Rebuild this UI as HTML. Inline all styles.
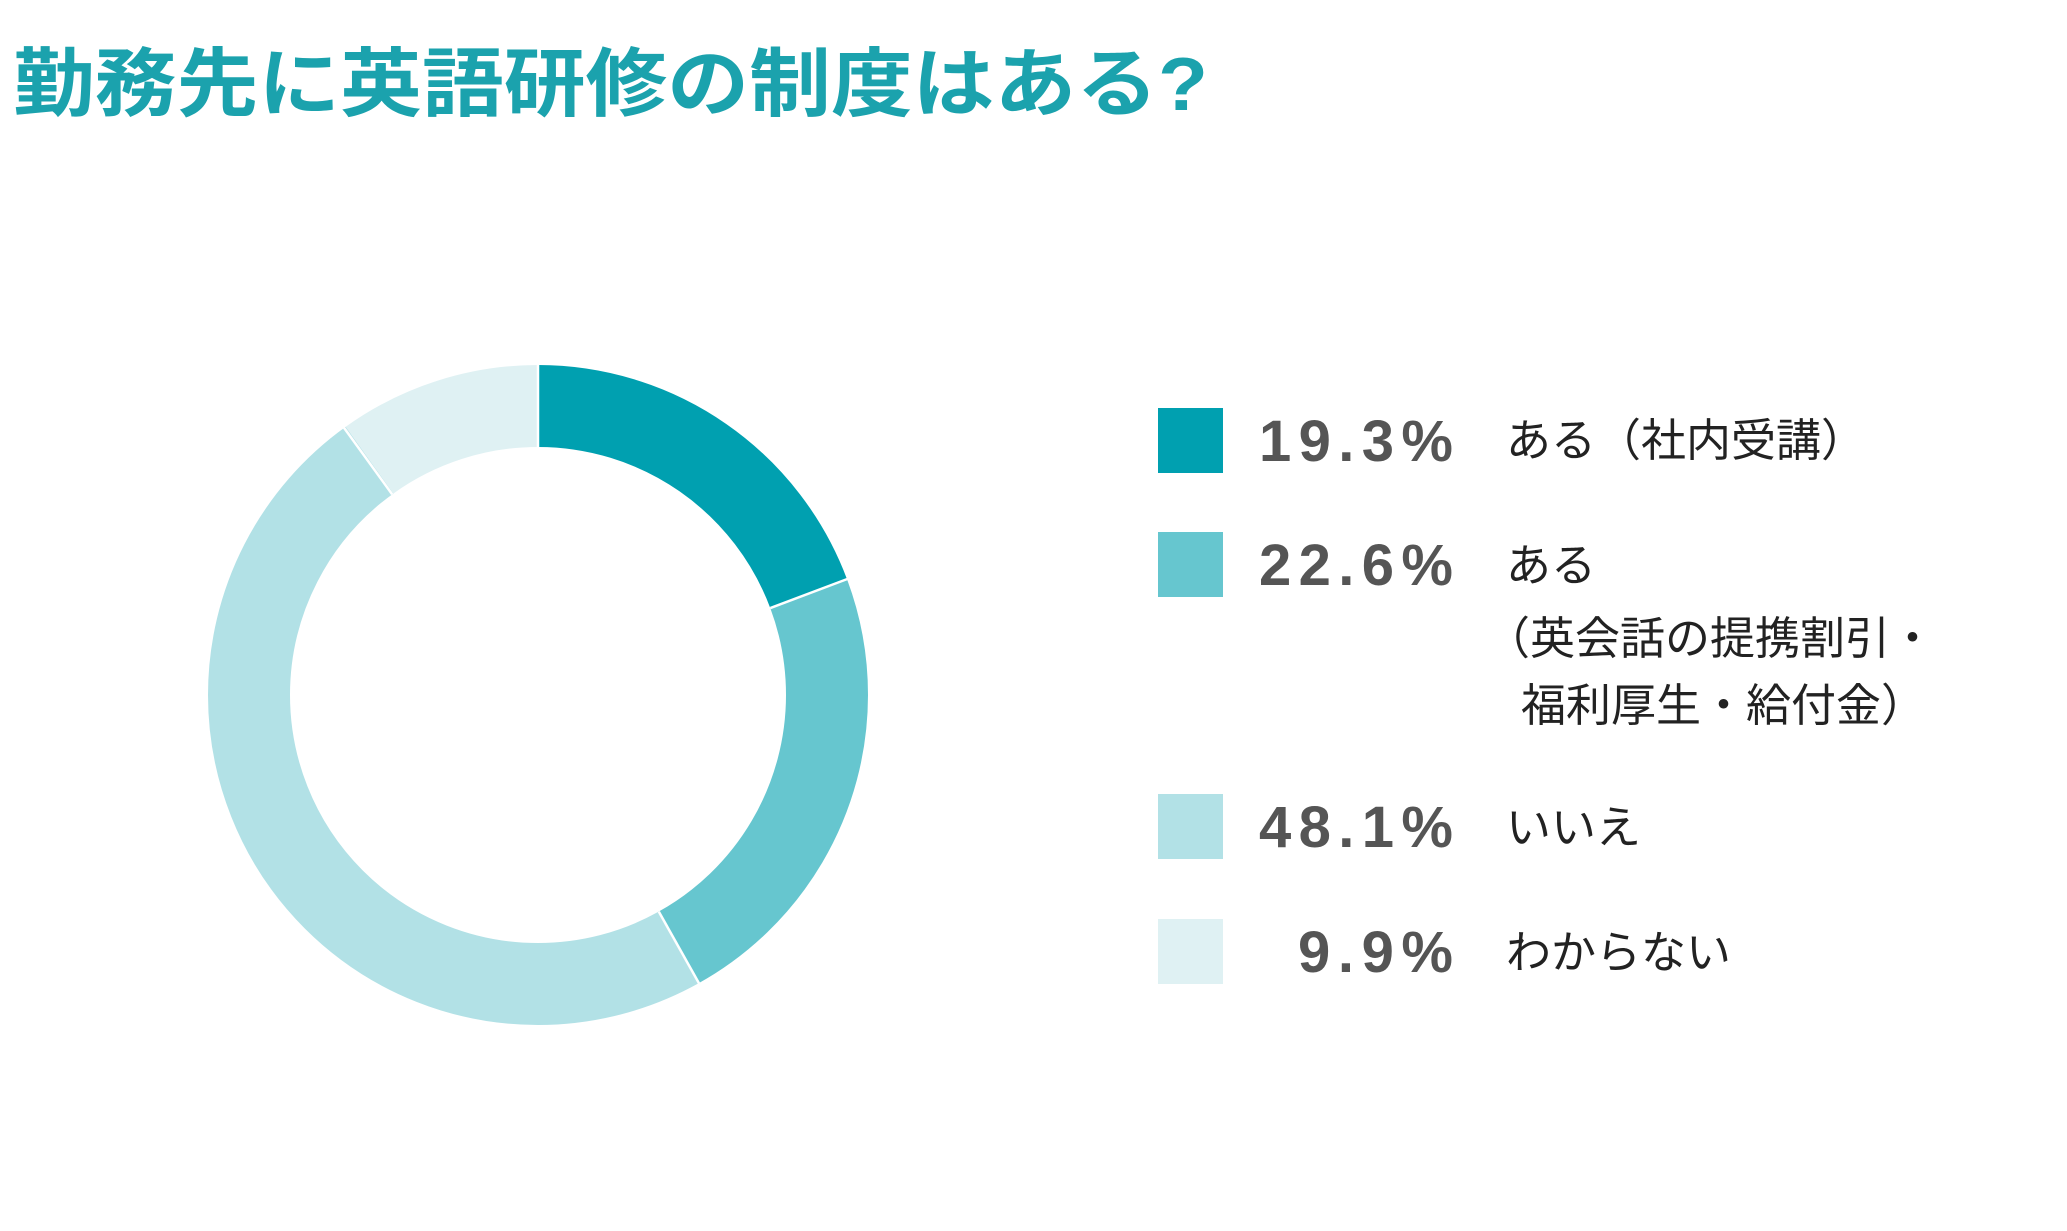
<!DOCTYPE html>
<html><head><meta charset="utf-8"><style>
html,body{margin:0;padding:0;background:#fff;}
</style></head><body>
<svg width="2067" height="1226" viewBox="0 0 2067 1226" xmlns="http://www.w3.org/2000/svg" font-family="'Liberation Sans','Noto Sans CJK JP',sans-serif">
<rect width="2067" height="1226" fill="#fff"/>
<text x="13" y="110" font-size="75" font-weight="bold" fill="#1ba2ad" textLength="1195" lengthAdjust="spacingAndGlyphs">勤務先に英語研修の制度はある?</text>
<g transform="rotate(-90 538 695)" fill="none" stroke-width="82">
<circle cx="538" cy="695" r="289" stroke="#00a0b0" stroke-dasharray="350.8 2000" stroke-dashoffset="0"/>
<circle cx="538" cy="695" r="289" stroke="#66c6cf" stroke-dasharray="410.8 2000" stroke-dashoffset="-350.8"/>
<circle cx="538" cy="695" r="289" stroke="#b2e1e6" stroke-dasharray="874.3 2000" stroke-dashoffset="-761.6"/>
<circle cx="538" cy="695" r="289" stroke="#dff1f3" stroke-dasharray="179.9 2000" stroke-dashoffset="-1635.9"/>
</g>
<g stroke="#fff" stroke-width="2.5">
<line x1="538" y1="447" x2="538" y2="361"/>
<line x1="770.3" y1="608.1" x2="850" y2="578"/>
<line x1="658.8" y1="911.6" x2="700.5" y2="986"/>
<line x1="392.2" y1="494.4" x2="342" y2="425"/>
</g>
<rect x="1158" y="408" width="65" height="65" fill="#00a0b0"/>
<rect x="1158" y="532" width="65" height="65" fill="#66c6cf"/>
<rect x="1158" y="794" width="65" height="65" fill="#b2e1e6"/>
<rect x="1158" y="919" width="65" height="65" fill="#dff1f3"/>
<g font-size="58" font-weight="bold" fill="#555" lengthAdjust="spacingAndGlyphs">
<text x="1259" y="461" textLength="194">19.3%</text>
<text x="1259" y="585" textLength="194">22.6%</text>
<text x="1259" y="847" textLength="194">48.1%</text>
<text x="1298" y="972" textLength="155">9.9%</text>
</g>
<g font-size="45" fill="#222">
<text x="1506" y="456">ある（社内受講）</text>
<text x="1506" y="581">ある</text>
<text x="1485" y="654">（英会話の提携割引・</text>
<text x="1521" y="721">福利厚生・給付金）</text>
<text x="1506" y="843">いいえ</text>
<text x="1506" y="968">わからない</text>
</g>
</svg>
</body></html>
